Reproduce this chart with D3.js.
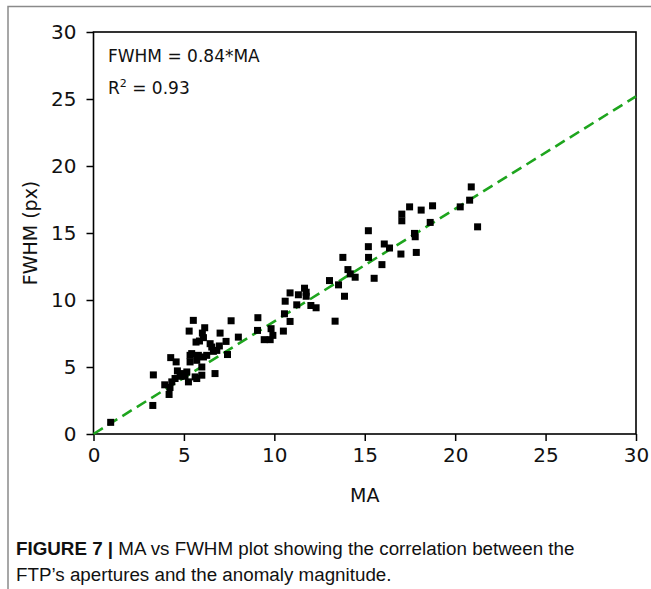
<!DOCTYPE html>
<html>
<head>
<meta charset="utf-8">
<script src="https://cdn.jsdelivr.net/npm/d3@7"></script>
<style>
  body { margin: 0; background: #fff; }
  svg text { fill: #111; }
</style>
</head>
<body>
<script>
// MA (x) and FWHM in px (y)
const ma = [0.95, 3.28, 3.31, 4.18, 3.94, 4.27, 4.57, 4.23, 4.33, 4.64,
            4.51, 4.79, 5.06, 5.16, 5.34, 5.34, 5.67, 5.80, 5.71, 5.52,
            7.61, 9.09, 5.29, 6.15, 7.00, 6.02, 6.08, 5.86, 6.45, 7.33,
            6.54, 6.96, 8.01, 9.07, 5.43, 6.26, 6.08, 6.63, 6.82, 7.41,
            5.71, 5.99, 5.99, 6.72, 4.97, 5.62, 5.25, 9.44, 9.77, 9.92,
            9.82, 10.5, 10.56, 10.87, 10.6, 10.87, 11.24, 11.33, 11.67, 11.76,
            11.76, 12.02, 12.31, 13.36, 13.05, 13.55, 13.88, 13.79, 14.07, 14.2,
            14.47, 15.21, 15.52, 15.95, 16.08, 16.37, 17.0, 17.85, 17.79, 17.75,
            17.05, 17.05, 17.48, 18.12, 18.75, 18.62, 15.2, 15.2, 20.28, 20.8,
            20.89, 21.24];
const fwhm = [0.87, 2.13, 4.41, 2.95, 3.67, 5.70, 5.38, 3.47, 3.89, 4.71,
              4.14, 4.31, 4.31, 4.63, 5.87, 5.38, 6.86, 5.87, 4.14, 8.48,
              8.45, 8.68, 7.68, 7.93, 7.53, 7.53, 7.19, 6.94, 6.74, 6.91,
              6.49, 6.57, 7.23, 7.73, 6.00, 5.87, 5.75, 6.17, 6.24, 5.93,
              5.50, 5.00, 4.39, 4.51, 4.51, 4.26, 3.89, 7.04, 7.04, 7.36,
              7.86, 7.68, 8.97, 8.40, 9.91, 10.53, 9.64, 10.39, 10.88, 10.58,
              10.28, 9.59, 9.42, 8.42, 11.45, 11.13, 10.28, 13.18, 12.27, 11.95,
              11.7, 13.18, 11.62, 12.64, 14.18, 13.88, 13.43, 13.55, 14.72, 14.97,
              15.91, 16.41, 16.95, 16.71, 17.03, 15.79, 15.17, 13.98, 16.95, 17.45,
              18.44, 15.46];
const ticks = [0, 5, 10, 15, 20, 25, 30];
const slope = 0.84;

const width = 651, height = 589;
const svg = d3.select('body').append('svg')
  .attr('width', width)
  .attr('height', height)
  .attr('viewBox', [0, 0, width, height]);

// grey figure frame (top + left edge)
svg.append('path')
  .attr('d', 'M8,589 L8,6.5 L651,6.5')
  .attr('fill', 'none')
  .attr('stroke', '#8a8a8a')
  .attr('stroke-width', 1.5);

const x = d3.scaleLinear().domain([0, 30]).range([93.5, 636]);
const y = d3.scaleLinear().domain([0, 30]).range([434, 32]);

const tickFont = "'DejaVu Sans', sans-serif";

const xAxis = svg.append('g')
  .attr('transform', `translate(0,${y(0)})`)
  .call(d3.axisBottom(x).tickValues(ticks).tickSize(7).tickPadding(7).tickSizeOuter(0));
const yAxis = svg.append('g')
  .attr('transform', `translate(${x(0)},0)`)
  .call(d3.axisLeft(y).tickValues(ticks).tickSize(7).tickPadding(10).tickSizeOuter(0));

[xAxis, yAxis].forEach(g => {
  g.attr('font-family', tickFont);
  g.select('.domain').remove();
  g.selectAll('line').attr('stroke', '#000').attr('stroke-width', 1.5);
  g.selectAll('text')
    .attr('font-family', tickFont)
    .attr('font-size', 20)
    .attr('fill', '#111');
});

// frame around plot
svg.append('rect')
  .attr('x', x(0)).attr('y', y(30))
  .attr('width', x(30) - x(0)).attr('height', y(0) - y(30))
  .attr('fill', 'none')
  .attr('stroke', '#000')
  .attr('stroke-width', 1.6);

// fit line
svg.append('line')
  .attr('x1', x(0)).attr('y1', y(0))
  .attr('x2', x(30)).attr('y2', y(30 * slope))
  .attr('stroke', '#1ea51e')
  .attr('stroke-width', 2.6)
  .attr('stroke-dasharray', '11,6');

// points
const sz = 7;
svg.append('g').selectAll('rect')
  .data(d3.range(ma.length))
  .join('rect')
  .attr('x', i => x(ma[i]) - sz / 2)
  .attr('y', i => y(fwhm[i]) - sz / 2)
  .attr('width', sz)
  .attr('height', sz)
  .attr('fill', '#000');

// annotations
svg.append('text')
  .attr('x', 108).attr('y', 62)
  .attr('font-family', tickFont)
  .attr('font-size', 17)
  .text('FWHM = 0.84*MA');
const r2 = svg.append('text')
  .attr('x', 108).attr('y', 94)
  .attr('font-family', tickFont)
  .attr('font-size', 17);
r2.append('tspan').text('R');
r2.append('tspan').attr('font-size', 11).attr('dy', -7).text('2');
r2.append('tspan').attr('dy', 7).text(' = 0.93');

// axis titles
svg.append('text')
  .attr('x', (x(0) + x(30)) / 2).attr('y', 502)
  .attr('text-anchor', 'middle')
  .attr('font-family', tickFont)
  .attr('font-size', 19)
  .text('MA');
svg.append('text')
  .attr('transform', `translate(37,${(y(0) + y(30)) / 2}) rotate(-90)`)
  .attr('text-anchor', 'middle')
  .attr('font-family', tickFont)
  .attr('font-size', 19)
  .text('FWHM (px)');

// caption
const capFont = "'Liberation Sans Narrow', 'Liberation Sans', Arial, sans-serif";
const cap1 = svg.append('text')
  .attr('x', 16).attr('y', 555)
  .attr('font-family', capFont)
  .attr('font-size', 18.8)
  .attr('fill', '#222');
cap1.append('tspan').attr('font-weight', 'bold').text('FIGURE 7 | ');
cap1.append('tspan').text('MA vs FWHM plot showing the correlation between the');
svg.append('text')
  .attr('x', 16).attr('y', 581)
  .attr('font-family', capFont)
  .attr('font-size', 18.8)
  .attr('fill', '#222')
  .text('FTP\u2019s apertures and the anomaly magnitude.');
</script>
</body>
</html>
